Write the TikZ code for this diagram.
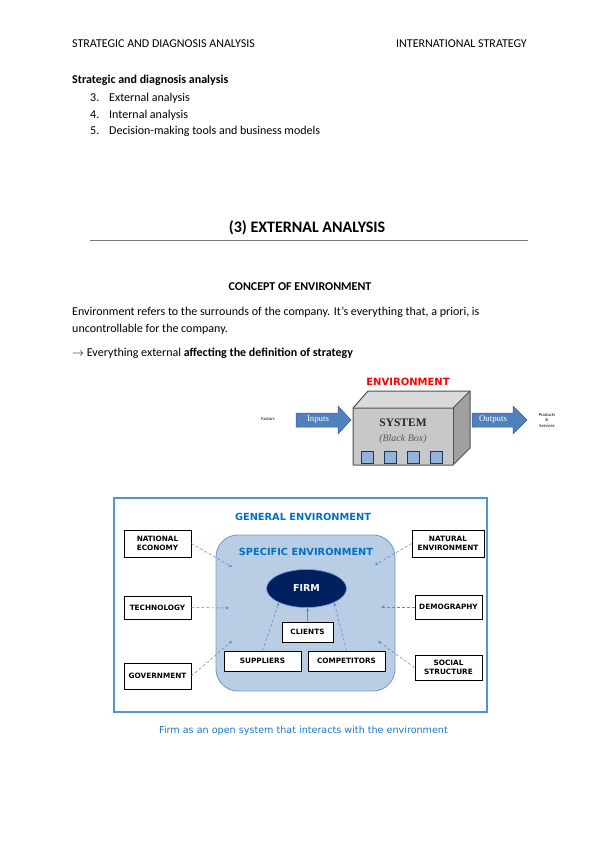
\documentclass[tikz,border=0pt]{standalone}
\usepackage{fontspec}
\setmainfont{Carlito}
\newfontfamily\vfont{DejaVu Sans}
\newfontfamily\serfont{Liberation Serif}
\usetikzlibrary{shadows,arrows.meta,shapes.geometric}
\definecolor{hdrgray}{RGB}{120,120,120}
\definecolor{genblue}{RGB}{0,112,192}
\definecolor{specfill}{RGB}{185,205,229}
\definecolor{specdraw}{RGB}{120,155,205}
\definecolor{outerblue}{RGB}{80,150,215}
\definecolor{firmnavy}{RGB}{0,32,96}
\definecolor{arrblue}{RGB}{95,135,200}
\definecolor{blkarrow}{RGB}{79,129,189}
\definecolor{blkarrowd}{RGB}{56,93,138}
\definecolor{sqfill}{RGB}{149,179,215}
\definecolor{sqdraw}{RGB}{23,55,94}
\definecolor{capblue}{RGB}{30,120,200}
\definecolor{frontgray}{RGB}{200,200,200}
\definecolor{topgray}{RGB}{218,218,218}
\definecolor{sidegray}{RGB}{160,160,160}
\definecolor{edgegray}{RGB}{80,80,80}
\tikzset{
  bodytxt/.style={inner sep=0pt, font=\fontsize{12}{14}\selectfont},
  envbox/.style={draw=black, fill=white, line width=0.8pt, inner sep=1pt, align=center,
     font=\vfont\bfseries\fontsize{7.3}{8.4}\selectfont,
     drop shadow={shadow xshift=1.3pt, shadow yshift=-1.3pt, fill=black!55, opacity=1}},
  envarrow/.style={draw=arrblue, line width=0.5pt, densely dashed, -{Stealth[length=3.5pt,width=3pt]}},
  sq/.style={draw=sqdraw, fill=sqfill, line width=0.6pt, minimum size=12pt, inner sep=0pt},
  tinytxt/.style={inner sep=0pt, font=\fontsize{4.6}{5.5}\selectfont, align=center}
}
\begin{document}
\begin{tikzpicture}[x=1pt,y=-1pt]
\useasboundingbox[fill=white] (0,0) rectangle (599,848);

% header
\node[bodytxt, anchor=base west] (h1) at (72,48) {STRATEGIC AND DIAGNOSIS ANALYSIS};
\node[bodytxt, anchor=base east] (h2) at (527,48) {INTERNATIONAL STRATEGY};

% list
\node[bodytxt, anchor=base west] (l0) at (72,84) {\bfseries Strategic and diagnosis analysis};
\node[bodytxt, anchor=base west] (n3) at (90,102) {3.};
\node[bodytxt, anchor=base west] (l3) at (109,102) {External analysis};
\node[bodytxt, anchor=base west] (n4) at (90,118) {4.};
\node[bodytxt, anchor=base west] (l4) at (109,118) {Internal analysis};
\node[bodytxt, anchor=base west] (n5) at (90,135) {5.};
\node[bodytxt, anchor=base west] (l5) at (109,135) {Decision-making tools and business models};

% title
\node[bodytxt, anchor=base, font=\bfseries\fontsize{16}{18}\selectfont] (title) at (307,232.5) {(3) EXTERNAL ANALYSIS};
\coordinate (rl) at (90,240);
\coordinate (rr) at (528,240);
\draw[draw=hdrgray, line width=1pt] (rl) -- (rr);

\node[bodytxt, anchor=base, font=\bfseries\fontsize{12}{14}\selectfont] (concept) at (300,290) {CONCEPT OF ENVIRONMENT};
\node[bodytxt, anchor=base west] (p1) at (72,315) {Environment refers to the surrounds of the company. It’s everything that, a priori, is};
\node[bodytxt, anchor=base west] (p2) at (72,332) {uncontrollable for the company.};
\node[bodytxt, anchor=base west] (p3) at (72,356) {$\rightarrow$ Everything external \textbf{affecting the definition of strategy}};

% ---------- system diagram ----------
\node[inner sep=0pt, anchor=base, text=red, font=\vfont\bfseries\fontsize{10}{11}\selectfont] (envt) at (408,385) {ENVIRONMENT};
% box faces
\fill[topgray] (353,408) -- (368,391) -- (470,391) -- (453,408) -- cycle;
\fill[sidegray] (453,408) -- (470,391) -- (470,448) -- (453,465) -- cycle;
\fill[frontgray] (353,408) rectangle (453,465);
\draw[edgegray, line width=1pt, line join=round] (353,408) -- (368,391) -- (470,391) -- (470,448) -- (453,465) -- (353,465) -- cycle;
\draw[edgegray, line width=1pt, line join=round] (353,408) -- (453,408) -- (470,391);
\draw[edgegray, line width=1pt] (453,408) -- (453,465);
\node[inner sep=0pt, font=\serfont\bfseries\fontsize{11.5}{13}\selectfont, text=black!85] (sys) at (403,423) {SYSTEM};
\node[inner sep=0pt, font=\serfont\itshape\fontsize{10}{12}\selectfont, text=black!65] (bb) at (403,439) {(Black Box)};
\node[sq] (s1) at (367,457) {};
\node[sq] (s2) at (390.5,457) {};
\node[sq] (s3) at (413,457) {};
\node[sq] (s4) at (436,457) {};
% block arrows
\filldraw[fill=blkarrow, draw=blkarrowd, line width=0.5pt] (296,413) -- (338,413) -- (338,406) -- (351,420) -- (338,434) -- (338,427) -- (296,427) -- cycle;
\filldraw[fill=blkarrow, draw=blkarrowd, line width=0.5pt] (472,413) -- (513,413) -- (513,406) -- (527,420) -- (513,434) -- (513,427) -- (472,427) -- cycle;
\node[inner sep=0pt, text=white, font=\serfont\fontsize{8.8}{9}\selectfont] (inp) at (318,419.5) {Inputs};
\node[inner sep=0pt, text=white, font=\serfont\fontsize{8.8}{9}\selectfont] (outp) at (493,419.5) {Outputs};
\node[tinytxt] (fac) at (268,419.5) {Factors};
\node[tinytxt] (prod) at (547,420) {Products\\\&\\Services};

% ---------- general environment diagram ----------
\draw[draw=outerblue, line width=1.3pt, fill=white] (114,498) rectangle (487,712);
\node[inner sep=0pt, text=genblue, font=\vfont\bfseries\fontsize{9.8}{11}\selectfont] (gen) at (303,517) {GENERAL ENVIRONMENT};
\draw[draw=specdraw, line width=0.9pt, fill=specfill, rounded corners=22pt] (216,535) rectangle (395,691);
\node[inner sep=0pt, text=genblue, font=\vfont\bfseries\fontsize{9.8}{11}\selectfont] (spec) at (306,552) {SPECIFIC ENVIRONMENT};

\node[ellipse, draw=specdraw, line width=0.6pt, fill=firmnavy, minimum width=80pt, minimum height=38pt, inner sep=0pt,
      text=white, font=\vfont\bfseries\fontsize{9.5}{11}\selectfont] (firm) at (306.5,588.5) {FIRM};

\node[envbox, minimum width=51pt, minimum height=20pt] (cli) at (307.5,632) {CLIENTS};
\node[envbox, minimum width=77pt, minimum height=20pt] (sup) at (262.5,661) {SUPPLIERS};
\node[envbox, minimum width=77pt, minimum height=20pt] (comp) at (346.5,661) {COMPETITORS};

\node[envbox, minimum width=67pt, minimum height=27pt] (ne) at (157.5,543.5) {NATIONAL\\ECONOMY};
\node[envbox, minimum width=67pt, minimum height=23pt] (tech) at (157.5,607.5) {TECHNOLOGY};
\node[envbox, minimum width=67pt, minimum height=26pt] (gov) at (157.5,676) {GOVERNMENT};
\node[envbox, minimum width=72pt, minimum height=27pt] (nat) at (448,543.5) {NATURAL\\ENVIRONMENT};
\node[envbox, minimum width=67pt, minimum height=24pt] (dem) at (448.5,607) {DEMOGRAPHY};
\node[envbox, minimum width=67pt, minimum height=25pt] (soc) at (448.5,667.5) {SOCIAL\\STRUCTURE};

\coordinate (ane) at (232,567);
\coordinate (atech) at (229,608);
\coordinate (agov) at (232,641);
\coordinate (anat) at (375,565);
\coordinate (adem) at (381,607);
\coordinate (asoc) at (378,641);
\draw[envarrow] (ne.east) -- (ane);
\draw[envarrow] (tech.east) -- (atech);
\draw[envarrow] (gov.east) -- (agov);
\draw[envarrow] (nat.west) -- (anat);
\draw[envarrow] (dem.west) -- (adem);
\draw[envarrow] (soc.west) -- (asoc);
\draw[envarrow] (sup.north) -- (firm.207);
\draw[envarrow] (comp.north) -- (firm.333);
\draw[envarrow, solid] (cli.north) -- (cli.north |- firm.south);

\node[inner sep=0pt, text=capblue, font=\vfont\fontsize{9.6}{11}\selectfont] (cap) at (303.5,731) {Firm as an open system that interacts with the environment};
\end{tikzpicture}
\end{document}
